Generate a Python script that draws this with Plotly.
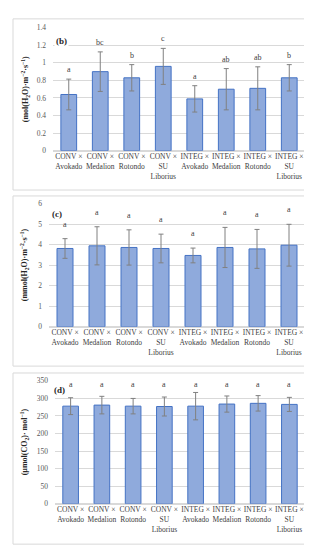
import plotly.graph_objects as go

categories = ["CONV ×<br>Avokado", "CONV ×<br>Medalion", "CONV ×<br>Rotondo", "CONV ×<br>SU<br>Liborius",
              "INTEG ×<br>Avokado", "INTEG ×<br>Medalion", "INTEG ×<br>Rotondo", "INTEG ×<br>SU<br>Liborius"]

b_values = [0.64, 0.90, 0.83, 0.96, 0.59, 0.70, 0.71, 0.83]
b_errors = [0.175, 0.225, 0.15, 0.205, 0.15, 0.235, 0.245, 0.15]
b_letters = ["a", "bc", "b", "c", "a", "ab", "ab", "b"]

c_values = [3.82, 3.95, 3.87, 3.82, 3.48, 3.87, 3.80, 3.98]
c_errors = [0.48, 0.93, 0.86, 0.70, 0.36, 0.98, 0.95, 1.02]
c_letters = ["a"] * 8

d_values = [278, 281, 278, 277, 278, 284, 286, 283]
d_errors = [24, 25, 22, 27, 39, 23, 22, 20]
d_letters = ["a"] * 8

W, H = 312, 550
SERIF = "Liberation Serif"
FILL = "#8faadc"
EDGE = "#4472c4"
GRID = "#d9d9d9"

def px(x):
    return x / W

def py(y):
    return 1 - y / H

panels = [
    dict(vals=b_values, errs=b_errors, letters=b_letters, rng=[0, 1.4], dtick=0.2,
         xd=[45, 297], yd=[141, 16], title="(mol(H<sub>2</sub>O)·m<sup>−2</sup>·s<sup>−1</sup>)",
         label="(b)", lab_xy=(53, 29), box=[5, 7, 307, 181], shift=3, fixed=None, tx=17),
    dict(vals=c_values, errs=c_errors, letters=c_letters, rng=[0, 6], dtick=1,
         xd=[41, 297], yd=[320, 195], title="(mmol(H<sub>2</sub>O)·m<sup>−2</sup>·s<sup>−1</sup>)",
         label="(c)", lab_xy=(49, 205), box=[5, 187, 307, 360], shift=8, fixed=None, tx=16),
    dict(vals=d_values, errs=d_errors, letters=d_letters, rng=[0, 350], dtick=50,
         xd=[47, 297], yd=[500, 375], title="(µmol(CO<sub>2</sub>)· mol<sup>−1</sup>)",
         label="(d)", lab_xy=(51, 384), box=[5, 367, 307, 541], shift=1, fixed=318, tx=16),
]

fig = go.Figure()
shapes = []
annotations = []
layout = {}

for i, p in enumerate(panels):
    n = "" if i == 0 else str(i + 1)
    xa, ya = "x" + n, "y" + n
    fig.add_trace(go.Bar(
        x=categories, y=p["vals"], xaxis=xa, yaxis=ya,
        marker=dict(color=FILL, line=dict(color=EDGE, width=1)),
        width=0.5,
        error_y=dict(type="data", array=p["errs"], visible=True, color="#808080", thickness=1, width=2.5),
        showlegend=False, hoverinfo="skip",
    ))
    layout["xaxis" + n] = dict(
        domain=[px(p["xd"][0]), px(p["xd"][1])], anchor=ya,
        tickfont=dict(family=SERIF, size=7.5, color="#404040"),
        showgrid=False, showline=False, ticks="", tickangle=0, fixedrange=True,
    )
    layout["yaxis" + n] = dict(
        domain=[py(p["yd"][0]), py(p["yd"][1])], anchor=xa,
        range=p["rng"], dtick=p["dtick"], showgrid=True, gridcolor=GRID, gridwidth=1,
        zeroline=True, zerolinecolor=GRID, showline=False, ticks="", ticklabelstandoff=6,
        tickfont=dict(family=SERIF, size=7.5, color="#595959"), fixedrange=True,
    )
    for j, (v, e, L) in enumerate(zip(p["vals"], p["errs"], p["letters"])):
        yv = p["fixed"] if p["fixed"] is not None else v + e
        annotations.append(dict(
            x=categories[j], y=yv, xref=xa, yref=ya, text=L, showarrow=False,
            yanchor="bottom", yshift=p["shift"],
            font=dict(family=SERIF, size=8, color="#404040"),
        ))
    annotations.append(dict(
        x=px(p["lab_xy"][0]), y=py(p["lab_xy"][1]), xref="paper", yref="paper",
        text="<b>" + p["label"] + "</b>", showarrow=False, xanchor="center", yanchor="middle",
        font=dict(family=SERIF, size=9, color="#262626"), bgcolor="white",
    ))
    annotations.append(dict(
        x=px(p["tx"]), y=py((p["yd"][0] + p["yd"][1]) / 2), xref="paper", yref="paper",
        text="<b>" + p["title"] + "</b>", showarrow=False, textangle=-90,
        xanchor="center", yanchor="middle",
        font=dict(family=SERIF, size=8, color="#262626"),
    ))
    bx = p["box"]
    shapes.append(dict(type="rect", xref="paper", yref="paper",
                       x0=px(bx[0]), x1=px(bx[2]), y0=py(bx[3]), y1=py(bx[1]),
                       line=dict(color=GRID, width=1), fillcolor="rgba(0,0,0,0)"))

fig.update_layout(
    width=W, height=H, margin=dict(l=0, r=0, t=0, b=0),
    paper_bgcolor="white", plot_bgcolor="white",
    bargap=0.5, shapes=shapes, annotations=annotations,
    **layout,
)

fig.write_html("out.html", config={"displayModeBar": False})
